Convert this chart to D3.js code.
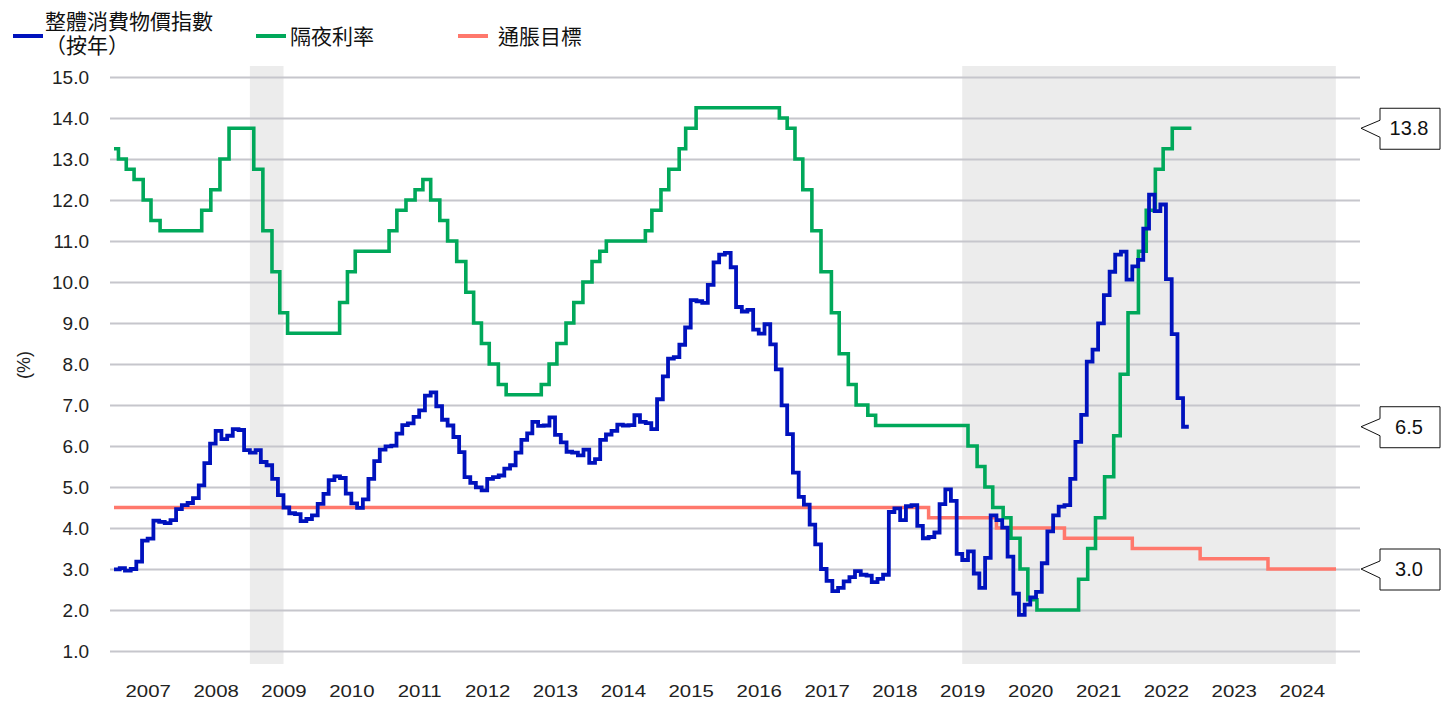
<!DOCTYPE html>
<html>
<head>
<meta charset="utf-8">
<script src="https://cdn.jsdelivr.net/npm/d3@7"></script>
<style>
  body { margin: 0; background: #fff; }
  text { font-family: "Liberation Sans", Arial, sans-serif; }
  .cjk { font-family: "Noto Sans CJK TC", "Noto Sans CJK SC", sans-serif; }
</style>
</head>
<body>
<div id="chart"></div>
<script>
// 整體消費物價指數（按年），每月，2007-01 至 2022-10
const cpiStart = '2007-01-01'
const cpiValues = [
  2.99, 3.02, 2.96, 3.00, 3.18, 3.69, 3.74, 4.18, 4.15, 4.12, 4.19, 4.46,
  4.56, 4.61, 4.73, 5.04, 5.58, 6.06, 6.37, 6.17, 6.25, 6.41, 6.39, 5.90,
  5.84, 5.90, 5.61, 5.53, 5.20, 4.80, 4.50, 4.36, 4.34, 4.17, 4.22, 4.31,
  4.59, 4.83, 5.17, 5.26, 5.22, 4.84, 4.60, 4.49, 4.70, 5.20, 5.63, 5.91,
  5.99, 6.01, 6.30, 6.51, 6.55, 6.71, 6.87, 7.23, 7.31, 6.97, 6.64, 6.50,
  6.22, 5.85, 5.24, 5.10, 4.99, 4.92, 5.20, 5.24, 5.28, 5.45, 5.53, 5.84,
  6.15, 6.31, 6.59, 6.49, 6.50, 6.70, 6.27, 6.09, 5.86, 5.84, 5.77, 5.91,
  5.59, 5.68, 6.15, 6.28, 6.37, 6.52, 6.50, 6.51, 6.75, 6.59, 6.56, 6.41,
  7.14, 7.70, 8.13, 8.17, 8.47, 8.89, 9.56, 9.53, 9.49, 9.93, 10.48, 10.67,
  10.71, 10.36, 9.39, 9.28, 9.32, 8.84, 8.74, 8.97, 8.48, 7.87, 6.99, 6.29,
  5.35, 4.76, 4.57, 4.08, 3.60, 3.00, 2.71, 2.46, 2.54, 2.70, 2.80, 2.95,
  2.86, 2.84, 2.68, 2.76, 2.86, 4.39, 4.48, 4.19, 4.53, 4.56, 4.05, 3.75,
  3.78, 3.89, 4.58, 4.94, 4.66, 3.37, 3.22, 3.43, 2.89, 2.54, 3.27, 4.31,
  4.19, 4.01, 3.30, 2.40, 1.88, 2.13, 2.31, 2.44, 3.14, 3.92, 4.31, 4.52,
  4.56, 5.20, 6.10, 6.76, 8.06, 8.35, 8.99, 9.68, 10.25, 10.67, 10.74, 10.06,
  10.38, 10.54, 11.30, 12.13, 11.73, 11.89, 10.07, 8.73, 7.17, 6.47
]

// 隔夜利率：每次調整生效日與利率
const rateDates = [
  '2007-01-01', '2007-01-25', '2007-03-08', '2007-04-19', '2007-06-07', '2007-07-19', '2007-09-06',
  '2008-04-17', '2008-06-05', '2008-07-24', '2008-09-11',
  '2009-01-22', '2009-03-12', '2009-04-30', '2009-06-11', '2009-07-23',
  '2010-04-29', '2010-06-10', '2010-07-22',
  '2011-01-20', '2011-03-03', '2011-04-21', '2011-06-09', '2011-07-21', '2011-09-01', '2011-10-20', '2011-12-01',
  '2012-01-19', '2012-03-08', '2012-04-19', '2012-05-31', '2012-07-12', '2012-08-30', '2012-10-11',
  '2013-04-18', '2013-05-30', '2013-07-11', '2013-08-29', '2013-10-10', '2013-11-28',
  '2014-01-16', '2014-02-27', '2014-04-03', '2014-10-30', '2014-12-04',
  '2015-01-22', '2015-03-05', '2015-04-30', '2015-06-04', '2015-07-30',
  '2016-10-20', '2016-12-01',
  '2017-01-12', '2017-02-23', '2017-04-13', '2017-06-01', '2017-07-27', '2017-09-07', '2017-10-26', '2017-12-07',
  '2018-02-08', '2018-03-22',
  '2019-08-01', '2019-09-19', '2019-10-31', '2019-12-12',
  '2020-02-06', '2020-03-19', '2020-05-07', '2020-06-18', '2020-08-06',
  '2021-03-18', '2021-05-06', '2021-06-17', '2021-08-05', '2021-09-23', '2021-10-28', '2021-12-09',
  '2022-02-03', '2022-03-17', '2022-05-05', '2022-06-16', '2022-08-04', '2022-11-15'
]
const rateValues = [
  13.25, 13.00, 12.75, 12.50, 12.00, 11.50, 11.25,
  11.75, 12.25, 13.00, 13.75,
  12.75, 11.25, 10.25, 9.25, 8.75,
  9.50, 10.25, 10.75,
  11.25, 11.75, 12.00, 12.25, 12.50, 12.00, 11.50, 11.00,
  10.50, 9.75, 9.00, 8.50, 8.00, 7.50, 7.25,
  7.50, 8.00, 8.50, 9.00, 9.50, 10.00,
  10.50, 10.75, 11.00, 11.25, 11.75,
  12.25, 12.75, 13.25, 13.75, 14.25,
  14.00, 13.75,
  13.00, 12.25, 11.25, 10.25, 9.25, 8.25, 7.50, 7.00,
  6.75, 6.50,
  6.00, 5.50, 5.00, 4.50,
  4.25, 3.75, 3.00, 2.25, 2.00,
  2.75, 3.50, 4.25, 5.25, 6.25, 7.75, 9.25,
  10.75, 11.75, 12.75, 13.25, 13.75, 13.75
]

// 通脹目標（按年）
const targetYears = [2007, 2008, 2009, 2010, 2011, 2012, 2013, 2014, 2015, 2016, 2017, 2018, 2019, 2020, 2021, 2022, 2023, 2024]
const targetValues = [4.5, 4.5, 4.5, 4.5, 4.5, 4.5, 4.5, 4.5, 4.5, 4.5, 4.5, 4.5, 4.25, 4.0, 3.75, 3.5, 3.25, 3.0]

const shadeRanges = [['2009-01-01', '2009-07-01'], ['2019-07-01', '2024-12-31']]
const yTicks = [1, 2, 3, 4, 5, 6, 7, 8, 9, 10, 11, 12, 13, 14, 15]
const xYears = d3.range(2007, 2025)

const BLUE = '#0012bd'
const GREEN = '#00a85a'
const RED = '#ff786c'

const width = 1441
const height = 702
const parse = d3.timeParse('%Y-%m-%d')

const cpi = cpiValues.map((v, i) => ({ date: d3.timeMonth.offset(parse(cpiStart), i), value: v }))
cpi.push({ date: d3.timeMonth.offset(parse(cpiStart), cpiValues.length), value: cpiValues[cpiValues.length - 1] })
const rate = rateDates.map((d, i) => ({ date: parse(d), value: rateValues[i] }))
const target = targetYears.map((y, i) => ({ date: new Date(y, 0, 1), value: targetValues[i] }))
target.push({ date: new Date(2025, 0, 1), value: targetValues[targetValues.length - 1] })

const svg = d3.select('#chart').append('svg')
  .attr('width', width)
  .attr('height', height)

const x = d3.scaleTime()
  .domain([new Date(2007, 0, 1), new Date(2025, 0, 1)])
  .range([114, 1336])
const y = d3.scaleLinear()
  .domain([1, 15])
  .range([651, 77])

// shaded periods
svg.append('g')
  .selectAll('rect')
  .data(shadeRanges)
  .join('rect')
  .attr('x', d => x(parse(d[0])))
  .attr('width', d => x(parse(d[1])) - x(parse(d[0])))
  .attr('y', 66)
  .attr('height', 664 - 66)
  .attr('fill', '#ececec')

// y axis + grid (top label is cut off like the original)
svg.append('clipPath').attr('id', 'yclip')
  .append('rect').attr('x', -200).attr('y', 71).attr('width', width + 200).attr('height', height)

const yAxis = svg.append('g')
  .attr('transform', 'translate(110,0)')
  .attr('clip-path', 'url(#yclip)')
  .call(d3.axisLeft(y).tickValues(yTicks).tickFormat(d3.format('.1f')).tickSize(-1250).tickPadding(21))
yAxis.select('.domain').remove()
yAxis.selectAll('.tick line').attr('stroke', '#c6c6cc').attr('stroke-width', 2)
yAxis.selectAll('.tick text').attr('font-size', 19).attr('fill', '#222')

svg.append('text')
  .attr('transform', 'translate(30,365) rotate(-90)')
  .attr('text-anchor', 'middle')
  .attr('font-size', 18)
  .attr('fill', '#222')
  .text('(%)')

// x axis
const xAxis = svg.append('g')
  .attr('transform', 'translate(0,677)')
  .call(d3.axisBottom(x)
    .tickValues(xYears.map(yr => new Date(yr, 6, 1)))
    .tickFormat(d3.timeFormat('%Y'))
    .tickSize(0)
    .tickPadding(8))
xAxis.select('.domain').remove()
xAxis.selectAll('.tick text')
  .attr('font-size', 17)
  .attr('fill', '#222')
  .attr('transform', 'scale(1.2,1)')

// lines
const line = d3.line()
  .x(d => x(d.date))
  .y(d => y(d.value))
  .curve(d3.curveStepAfter)

const series = [
  { data: target, color: RED, w: 3.5 },
  { data: rate, color: GREEN, w: 3.6 },
  { data: cpi, color: BLUE, w: 3.8 }
]
svg.append('g')
  .selectAll('path')
  .data(series)
  .join('path')
  .attr('fill', 'none')
  .attr('stroke', d => d.color)
  .attr('stroke-width', d => d.w)
  .attr('d', d => line(d.data))

// callouts for last values
const callouts = [
  rateValues[rateValues.length - 1],
  cpiValues[cpiValues.length - 1],
  targetValues[targetValues.length - 1]
]
const cg = svg.append('g')
  .selectAll('g')
  .data(callouts)
  .join('g')
  .attr('transform', d => `translate(0,${y(d)})`)
cg.append('path')
  .attr('d', 'M1380,-20 L1440,-20 L1440,21 L1380,21 L1380,9 L1361,0 L1380,-8 Z')
  .attr('fill', '#fff')
  .attr('stroke', '#111')
  .attr('stroke-width', 1)
cg.append('text')
  .attr('x', 1409)
  .attr('y', 7)
  .attr('text-anchor', 'middle')
  .attr('font-size', 20)
  .attr('fill', '#111')
  .text(d => d3.format('.1f')(d))

// legend
const legend = [
  { label: ['整體消費物價指數', '（按年）'], color: BLUE, x: 13, tx: 45 },
  { label: ['隔夜利率'], color: GREEN, x: 256, tx: 290 },
  { label: ['通脹目標'], color: RED, x: 458, tx: 498 }
]
const lg = svg.append('g')
  .selectAll('g')
  .data(legend)
  .join('g')
lg.append('line')
  .attr('x1', d => d.x)
  .attr('x2', d => d.x + 30)
  .attr('y1', 36)
  .attr('y2', 36)
  .attr('stroke', d => d.color)
  .attr('stroke-width', 4)
lg.append('text')
  .attr('class', 'cjk')
  .attr('font-size', 21)
  .attr('fill', '#111')
  .selectAll('tspan')
  .data(d => d.label.map((t, i) => ({ t, i, n: d.label.length, tx: d.tx })))
  .join('tspan')
  .attr('x', d => d.tx)
  .attr('y', d => d.n === 1 ? 44 : 29 + d.i * 24)
  .text(d => d.t)
</script>
</body>
</html>
